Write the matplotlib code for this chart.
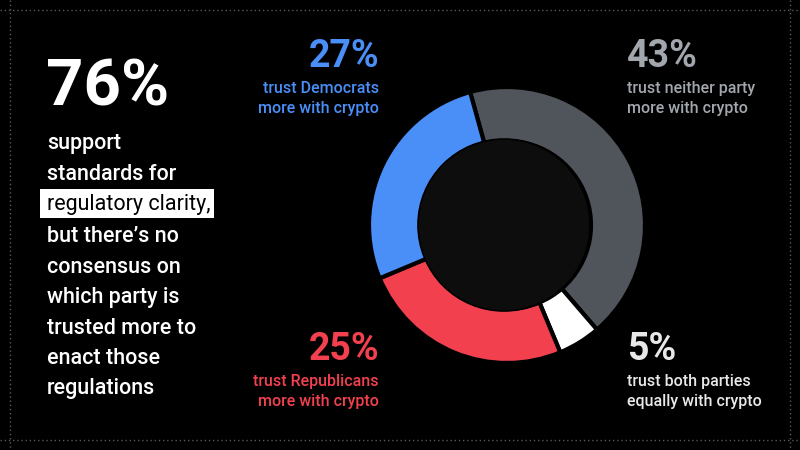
import matplotlib
matplotlib.use("Agg")
import matplotlib.pyplot as plt
from matplotlib.patches import Circle, Rectangle

# ---- data ----
categories = ["trust neither party", "trust both parties", "trust Republicans", "trust Democrats"]
values = [43, 5, 25, 27]
colors = ["#50545b", "#ffffff", "#f2404e", "#4a8ef8"]
label_colors = ["#a2a6ad", "#e8e8e8", "#f2404e", "#4a8ef8"]
label_lines = [
    ["trust neither party", "more with crypto"],
    ["trust both parties", "equally with crypto"],
    ["trust Republicans", "more with crypto"],
    ["trust Democrats", "more with crypto"],
]
headline_value = "76%"
body_lines = ["support", "standards for", "regulatory clarity,", "but there\u2019s no",
              "consensus on", "which party is", "trusted more to", "enact those", "regulations"]

FONT = ["Roboto", "DejaVu Sans"]
W, H = 800, 450
fig = plt.figure(figsize=(8, 4.5), dpi=100, facecolor="black")

# pixel overlay axes
ov = fig.add_axes([0, 0, 1, 1])
ov.set_xlim(0, W)
ov.set_ylim(H, 0)
ov.axis("off")
ov.set_facecolor("black")

# dotted frame
for y in (10, 440):
    ov.plot([0, W], [y, y], color="#5a5a5a", lw=1, ls=(0, (1, 2)))
for x in (10, 790):
    ov.plot([x, x], [0, H], color="#5a5a5a", lw=1, ls=(0, (1, 2)))

# left text block
ov.text(46, 105, headline_value, color="white", fontsize=47, fontweight="bold",
        family=FONT, ha="left", va="baseline")
ys = [149, 180, 210, 242, 273, 303, 334, 364, 394]
for line, y in zip(body_lines, ys):
    if line.startswith("regulatory"):
        ov.add_patch(Rectangle((40, 189), 174, 29, facecolor="white", edgecolor="none"))
        ov.text(47, y, line, color="black", fontsize=15.5, fontweight="normal",
                family=FONT, ha="left", va="baseline")
    else:
        ov.text(47, y, line, color="white", fontsize=15.5, fontweight="medium",
                family=FONT, ha="left", va="baseline")

# donut
cx, cy, R, r_in = 507, 225, 138, 86
pa = fig.add_axes([(cx - 145) / W, (H - cy - 145) / H, 290 / W, 290 / H])
pa.set_xlim(-145, 145)
pa.set_ylim(-145, 145)
pa.set_aspect("equal")
pa.axis("off")
pa.pie(values, colors=colors, radius=R, startangle=90 + 15.5, counterclock=False,
       wedgeprops=dict(width=R - r_in + 2, edgecolor="black", linewidth=3))
pa.add_patch(Circle((-3, 0), r_in, facecolor="#0d0d0d", edgecolor="black", lw=1.2, zorder=5))
pa.set_xlim(-145, 145)
pa.set_ylim(-145, 145)

# labels: (x, pct baseline y, ha)
label_pos = [
    (627, 67, "left"),
    (627, 360, "left"),
    (379, 360, "right"),
    (379, 67, "right"),
]
for (x, yb, ha), v, c, lines in zip(label_pos, values, label_colors, label_lines):
    ov.text(x, yb, f"{v}%", color=c, fontsize=27, fontweight="bold", family=FONT,
            ha=ha, va="baseline")
    ov.text(x, yb + 26, lines[0], color=c, fontsize=11.5, fontweight="medium",
            family=FONT, ha=ha, va="baseline")
    ov.text(x, yb + 46, lines[1], color=c, fontsize=11.5, fontweight="medium",
            family=FONT, ha=ha, va="baseline")

fig.savefig("out.png", dpi=100, facecolor="black")
